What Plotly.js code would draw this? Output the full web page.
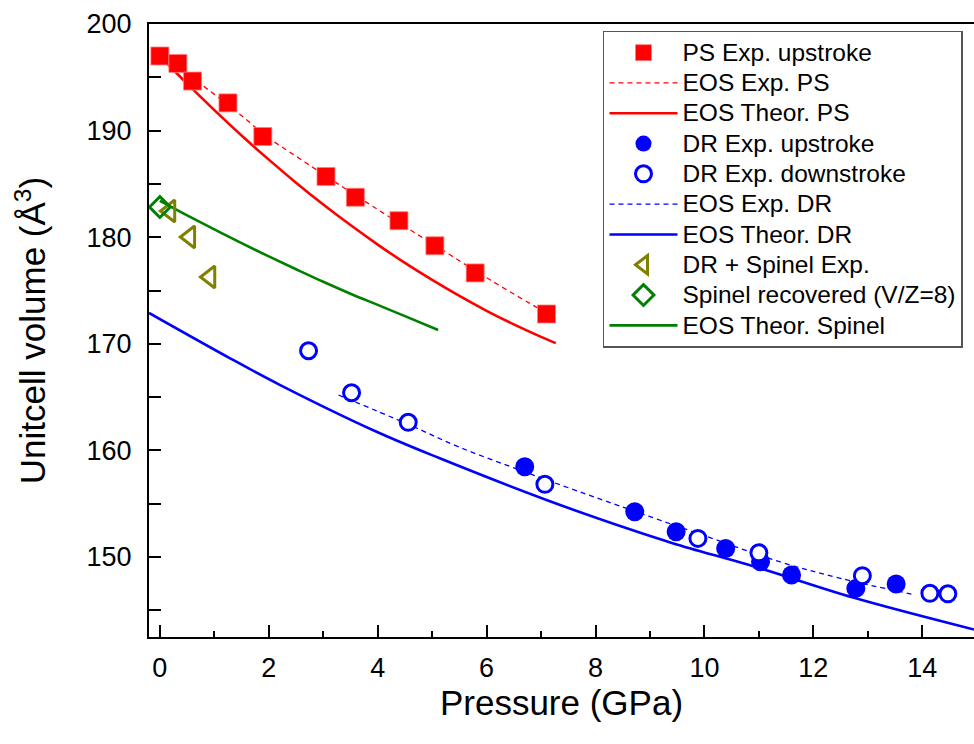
<!DOCTYPE html>
<html>
<head>
<meta charset="utf-8">
<script src="https://cdn.plot.ly/plotly-3.0.1.min.js"></script>
<style>html,body{margin:0;padding:0;background:#fff;}#chart{width:974px;height:744px;}</style>
</head>
<body>
<div id="chart"></div>
<script>
// PS experimental upstroke (squares)
var psP = [0.0, 0.33, 0.60, 1.25, 1.89, 3.05, 3.59, 4.39, 5.05, 5.79, 7.10];
var psV = [197.0, 196.3, 194.65, 192.6, 189.45, 185.7, 183.75, 181.55, 179.2, 176.65, 172.8];

// EOS Exp. PS (dashed red)
var eosExpPsP = [0, 0.5, 1, 1.5, 2, 2.5, 3, 4, 5, 6, 7, 7.27];
var eosExpPsV = [197.1, 195.3, 193.4, 191.4, 189.3, 187.6, 185.9, 182.6, 179.4, 176.2, 173.2, 172.5];

// EOS Theor. PS (solid red)
var theoPsP = [0, 0.5, 1, 1.5, 2, 2.5, 3, 3.5, 4, 4.5, 5, 5.5, 6, 6.5, 7, 7.27];
var theoPsV = [197.0, 194.4, 191.92, 189.54, 187.28, 185.12, 183.07, 181.14, 179.31, 177.59, 175.99, 174.49, 173.1, 171.82, 170.65, 170.07];

// DR experimental upstroke (filled circles)
var drUpP = [6.70, 8.72, 9.48, 10.39, 11.03, 11.60, 12.78, 13.52];
var drUpV = [158.47, 154.25, 152.37, 150.81, 149.56, 148.31, 147.06, 147.47];

// DR experimental downstroke (open circles)
var drDownP = [2.73, 3.52, 4.56, 7.07, 9.88, 11.0, 12.90, 14.14, 14.47];
var drDownV = [169.35, 165.41, 162.64, 156.82, 151.75, 150.40, 148.25, 146.6, 146.55];

// EOS Exp. DR (dashed blue)
var eosExpDrP = [3.28, 4.56, 5.5, 6.61, 7.5, 8.45, 10.0, 11.38, 12.5, 13.8];
var eosExpDrV = [165.2, 162.45, 160.3, 158.16, 156.5, 154.78, 152.0, 149.56, 148.0, 146.53];

// EOS Theor. DR (solid blue)
var theoDrP = [-0.2, 1.29, 2.21, 3.98, 5.14, 7.10, 8.63, 9.43, 11.02, 12.73, 14.95];
var theoDrV = [172.9, 168.64, 166.13, 161.75, 159.26, 155.35, 152.6, 151.28, 148.94, 146.2, 143.2];

// DR + Spinel experimental (triangles)
var drSpP = [0.185, 0.55, 0.92];
var drSpV = [182.46, 180.02, 176.27];

// Spinel recovered (diamond)
var spRecP = [0.0];
var spRecV = [182.83];

// EOS Theor. Spinel (solid green)
var theoSpP = [0, 0.5, 1, 1.5, 2, 2.5, 3, 3.5, 4, 4.5, 5.11];
var theoSpV = [183.4, 182.05, 180.73, 179.44, 178.2, 177.0, 175.82, 174.7, 173.65, 172.6, 171.3];

var RED = '#FF0000', BLUE = '#0000FF', OLIVE = '#808000', GREEN = '#008000';
var FONT = 'Liberation Sans, Arial, Helvetica, sans-serif';

function lg(t) { return '<span style="font-size:24.5px">' + t + '</span>'; }

var traces = [
  {x: eosExpPsP, y: eosExpPsV, name: lg('EOS Exp. PS'), mode: 'lines', legendrank: 2,
   line: {color: RED, width: 1.3, dash: '5px,4px', shape: 'spline'}},
  {x: theoPsP, y: theoPsV, name: lg('EOS Theor. PS'), mode: 'lines', legendrank: 3,
   line: {color: RED, width: 2.6, shape: 'spline'}},
  {x: eosExpDrP, y: eosExpDrV, name: lg('EOS Exp. DR'), mode: 'lines', legendrank: 6,
   line: {color: BLUE, width: 1.3, dash: '5px,4px', shape: 'spline'}},
  {x: theoDrP, y: theoDrV, name: lg('EOS Theor. DR'), mode: 'lines', legendrank: 7,
   line: {color: BLUE, width: 2.6, shape: 'spline'}},
  {x: theoSpP, y: theoSpV, name: lg('EOS Theor. Spinel'), mode: 'lines', legendrank: 10,
   line: {color: GREEN, width: 2.6, shape: 'spline'}},
  {x: psP, y: psV, name: lg('PS Exp. upstroke'), mode: 'markers', legendrank: 1,
   marker: {symbol: 'square', size: 18, color: RED, line: {width: 0.8, color: '#ff8080'}}},
  {x: drUpP, y: drUpV, name: lg('DR Exp. upstroke'), mode: 'markers', legendrank: 4,
   marker: {symbol: 'circle', size: 19, color: BLUE, line: {width: 0}}},
  {x: drDownP, y: drDownV, name: lg('DR Exp. downstroke'), mode: 'markers', legendrank: 5,
   marker: {symbol: 'circle', size: 16, color: '#ffffff', line: {width: 3, color: BLUE}}},
  {x: drSpP, y: drSpV, name: lg('DR + Spinel Exp.'), mode: 'markers', legendrank: 8,
   marker: {symbol: 'triangle-left-open', size: 19, color: OLIVE, line: {width: 3, color: OLIVE}}},
  {x: spRecP, y: spRecV, name: lg('Spinel recovered (V/Z=8)'), mode: 'markers', legendrank: 9,
   marker: {symbol: 'diamond-open', size: 16, color: GREEN, line: {width: 3, color: GREEN}}}
];

var layout = {
  width: 974, height: 744,
  margin: {l: 149, r: 0, t: 24, b: 107},
  paper_bgcolor: '#ffffff', plot_bgcolor: '#ffffff',
  font: {family: FONT, color: '#000000'},
  showlegend: true,
  legend: {
    x: 0.5503, y: 0.9886, xanchor: 'left', yanchor: 'top',
    bgcolor: '#ffffff', bordercolor: '#555555', borderwidth: 1.5,
    font: {family: FONT, size: 21, color: '#000000'},
    itemwidth: 68, traceorder: 'normal'
  },
  xaxis: {
    range: [-0.2, 14.95], tick0: 0, dtick: 2,
    ticks: 'inside', ticklen: 12, tickwidth: 2, tickcolor: '#000',
    minor: {dtick: 1, ticks: 'inside', ticklen: 6, tickwidth: 2, tickcolor: '#000', showgrid: false},
    showline: true, linewidth: 2, linecolor: '#000', mirror: true,
    showgrid: false, zeroline: false,
    tickfont: {family: FONT, size: 27, color: '#000'},
    ticklabelstandoff: 6,
    title: {text: 'Pressure (GPa)', font: {family: FONT, size: 35, color: '#000'}, standoff: 0}
  },
  yaxis: {
    range: [142.5, 200], tick0: 0, dtick: 10,
    ticks: 'inside', ticklen: 12, tickwidth: 2, tickcolor: '#000',
    minor: {dtick: 5, ticks: 'inside', ticklen: 12, tickwidth: 2, tickcolor: '#000', showgrid: false},
    showline: true, linewidth: 2, linecolor: '#000', mirror: false,
    showgrid: false, zeroline: false,
    tickfont: {family: FONT, size: 27, color: '#000'},
    ticklabelstandoff: 10,
    title: {text: 'Unitcell volume (Å<sup>3</sup>)', font: {family: FONT, size: 35, color: '#000'}, standoff: 30}
  }
};

Plotly.newPlot('chart', traces, layout, {displayModeBar: false, staticPlot: true});
</script>
</body>
</html>
